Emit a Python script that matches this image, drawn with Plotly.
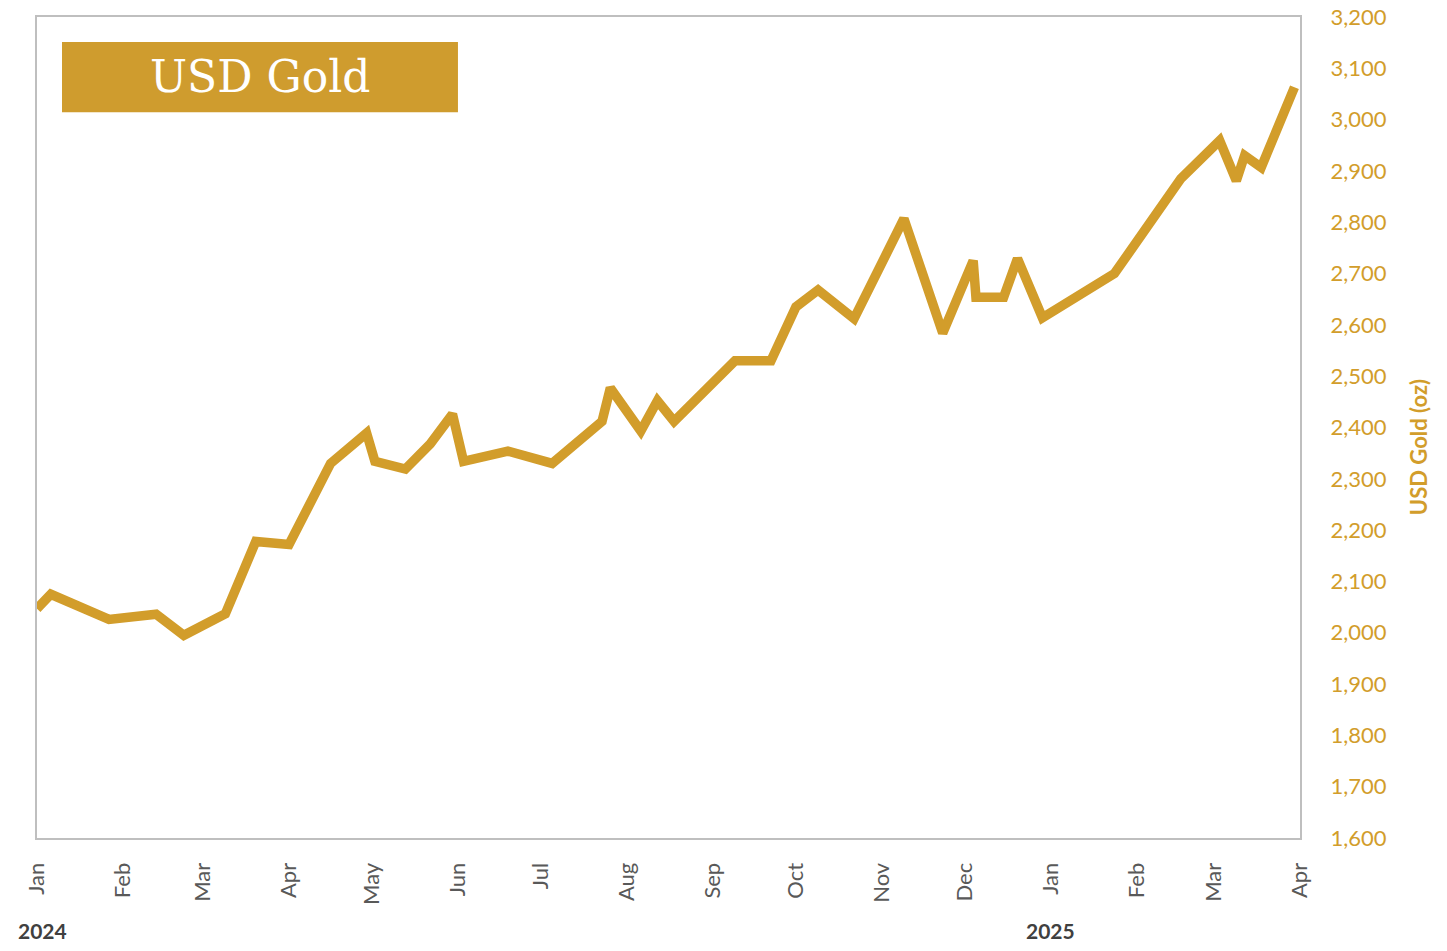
import plotly.graph_objects as go

dates = [
    "2024-01-01", "2024-01-06", "2024-01-27", "2024-02-13", "2024-02-23",
    "2024-03-09", "2024-03-20", "2024-04-01", "2024-04-16", "2024-04-29",
    "2024-05-02", "2024-05-13", "2024-05-22", "2024-05-30", "2024-06-03",
    "2024-06-19", "2024-07-05", "2024-07-23", "2024-07-26", "2024-08-06",
    "2024-08-12", "2024-08-18", "2024-09-09", "2024-09-22", "2024-10-01",
    "2024-10-09", "2024-10-22", "2024-11-09", "2024-11-23", "2024-12-04",
    "2024-12-05", "2024-12-15", "2024-12-20", "2024-12-29", "2025-01-24",
    "2025-02-17", "2025-03-03", "2025-03-09", "2025-03-12", "2025-03-18",
    "2025-03-30",
]
gold_usd = [
    2047, 2075, 2026, 2036, 1995,
    2037, 2178, 2172, 2330, 2389,
    2334, 2319, 2368, 2426, 2334,
    2354, 2330, 2412, 2477, 2393,
    2452, 2412, 2530, 2530, 2635,
    2668, 2612, 2807, 2584, 2725,
    2654, 2654, 2729, 2614, 2700,
    2885, 2959, 2881, 2930, 2907,
    3063,
]
title_text = "USD Gold"
y_title = "USD Gold (oz)"
year_labels = ["2024", "2025"]
year_dates = ["2024-01-03", "2025-01-01"]

GOLD = "#D29D2B"
BOX = "#CF9C2E"

fig = go.Figure()
fig.add_trace(go.Scatter(
    x=dates, y=gold_usd, mode="lines",
    line=dict(color=GOLD, width=9.5),
    hoverinfo="x+y", showlegend=False,
))

fig.update_layout(
    width=1447, height=951,
    margin=dict(l=37, r=147, t=17, b=113, autoexpand=False),
    paper_bgcolor="white", plot_bgcolor="white",
    font=dict(family="Lato, Open Sans, sans-serif"),
    xaxis=dict(
        type="date",
        range=["2024-01-01", "2025-04-01"],
        dtick="M1", tick0="2024-01-01", tickformat="%b",
        tickangle=-90,
        tickfont=dict(size=22, color="#595959"),
        showgrid=False, zeroline=False, automargin=False,
        showline=True, linecolor="#BFBFBF", linewidth=2, mirror=True,
        ticks="", ticklabelstandoff=14, ticklabeloverflow="allow",
    ),
    yaxis=dict(
        side="right",
        range=[1600, 3200], dtick=100, tickformat=",",
        tickfont=dict(size=22, color=GOLD),
        showgrid=False, zeroline=False, automargin=False,
        showline=True, linecolor="#BFBFBF", linewidth=2, mirror=True,
        ticks="", ticklabelstandoff=24, ticklabeloverflow="allow",
    ),
)

fig.add_annotation(xref="paper", yref="paper", x=1.0934, y=0.476,
                   xanchor="center", yanchor="middle", textangle=-90,
                   text="<b>" + y_title + "</b>", showarrow=False,
                   font=dict(size=22, color=GOLD))

fig.add_shape(type="rect", xref="paper", yref="paper",
              x0=0.0198, x1=0.3333, y0=0.884, y1=0.9695,
              fillcolor=BOX, line=dict(width=0), layer="above")
fig.add_annotation(xref="paper", yref="paper", x=0.1766, y=0.927,
                   xanchor="center", yanchor="middle",
                   text=title_text, showarrow=False,
                   font=dict(family="DejaVu Serif", size=44, color="white"))

for lbl, d in zip(year_labels, year_dates):
    fig.add_annotation(xref="x", yref="paper", x=d, y=-0.113,
                       xanchor="center", yanchor="middle",
                       text="<b>" + lbl + "</b>", showarrow=False,
                       font=dict(size=21, color="#404040"))

fig.write_html("out.html", config={"displayModeBar": False},
               post_script="document.body.style.margin='0';")
